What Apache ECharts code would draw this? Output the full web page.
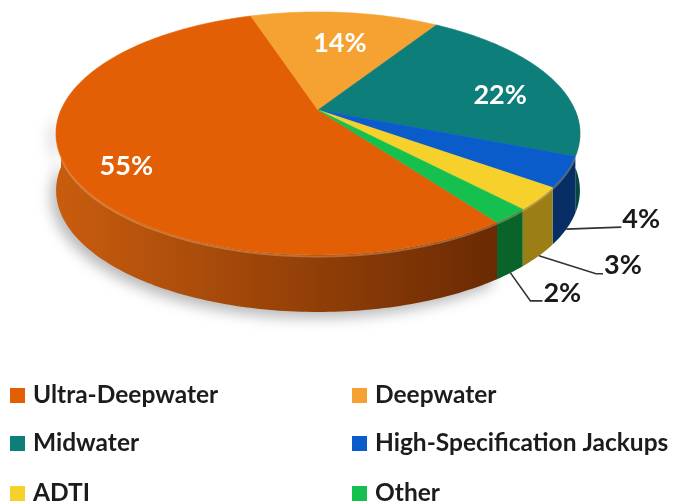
<!DOCTYPE html>
<html>
<head>
<meta charset="utf-8">
<script src="https://cdn.jsdelivr.net/npm/echarts@6/dist/echarts.min.js"></script>
<style>
  html, body { margin: 0; padding: 0; background: #ffffff; }
  #chart { width: 673px; height: 504px; }
</style>
</head>
<body>
<div id="chart"></div>
<script>
// Fleet mix by rig class (share of total, %)
const categories = ['Ultra-Deepwater', 'Deepwater', 'Midwater', 'High-Specification Jackups', 'ADTI', 'Other'];
const shares = [55, 14, 22, 4, 3, 2];
const shareLabels = ['55%', '14%', '22%', '4%', '3%', '2%'];

// Colours: top face, and side wall gradient (light -> dark)
const topColors = ['#E35F05', '#F6A232', '#0D7E79', '#0B5CCB', '#F6D12B', '#15C04F'];
const sideColors = [
  ['#C85C0E', '#6A2A03'],
  ['#C27A1E', '#8A5410'],
  ['#0A615D', '#064744'],
  ['#0A4B9E', '#072F66'],
  ['#CBA624', '#9C7E16'],
  ['#10893A', '#0A6328']
];

// Leader routing for the small slices that are labelled outside the disc:
// bend point and end point, relative to the anchor on the wall.
const calloutRoutes = [null, null, null, [[27, -1], [55, -2]], [[57, 18], [64, 18]], [[20, 28], [32, 28]]];

// Legend grid: two columns, three rows (left edge of icon, row centre)
const legendColumns = [10, 352];
const legendRows = [395, 443, 493];

// Disc projection (simple perspective, tilted toward the viewer)
const CX = 318, CY = 110, RX = 257, RY = 117, K = -0.193, DEPTH = 57;
const START_DEG = 144;       // clockwise from 12 o'clock
const LABEL_FRAC = 0.78;
const LABEL_DROP = 12;
const FONT = 'Lato, "Open Sans", sans-serif';

const total = shares.reduce((s, v) => s + v, 0);
const startDeg = [];
{
  let acc = START_DEG;
  shares.forEach(v => { startDeg.push(acc); acc += v / total * 360; });
}

function project(deg, f, down) {
  const r = deg * Math.PI / 180;
  const X = f * Math.sin(r), Z = -f * Math.cos(r);
  const d = 1 + K * Z;
  return [CX + RX * X / d, CY + RY * Z / d + (down || 0)];
}

function arcPoints(a, b, down) {
  const pts = [];
  const n = Math.max(2, Math.ceil(Math.abs(b - a)));
  for (let j = 0; j <= n; j++) pts.push(project(a + (b - a) * j / n, 1, down));
  return pts;
}

function renderSlice(params, api) {
  const i = params.seriesIndex;
  const value = api.value(0);
  const a = startDeg[i];
  const b = a + value / total * 360;
  const children = [];

  // front wall: the part of [a, b] lying on the near half of the disc
  const ranges = [[90, 270], [450, 630]];
  ranges.forEach(([lo, hi]) => {
    const s = Math.max(a, lo), e = Math.min(b, hi);
    if (e > s) {
      const topArc = arcPoints(s, e, 0);
      const botArc = arcPoints(e, s, DEPTH);
      children.push({
        type: 'polygon',
        z2: i === 0 ? 1 : 2,
        shape: { points: topArc.concat(botArc) },
        style: {
          fill: new echarts.graphic.LinearGradient(CX - RX, 0, CX + 0.7 * RX, 0, [
            { offset: 0, color: sideColors[i][0] },
            { offset: 1, color: sideColors[i][1] }
          ], true),
          shadowColor: i === 0 ? 'rgba(0,0,0,0.28)' : 'rgba(0,0,0,0)',
          shadowBlur: i === 0 ? 14 : 0,
          shadowOffsetX: -5,
          shadowOffsetY: 6
        }
      });
      children.push({
        type: 'polyline',
        z2: 3,
        shape: { points: arcPoints(s, e, 1.5) },
        style: { stroke: 'rgba(255,200,150,0.35)', lineWidth: 2, fill: null }
      });
    }
  });

  // top face
  children.push({
    type: 'polygon',
    z2: 4,
    shape: { points: [project(0, 0, 0)].concat(arcPoints(a, b, 0)) },
    style: { fill: topColors[i], stroke: topColors[i], lineWidth: 0.6 }
  });

  const mid = (a + b) / 2;
  const route = calloutRoutes[i];
  if (!route) {
    const p = project(mid, LABEL_FRAC, LABEL_DROP);
    children.push({
      type: 'text',
      z2: 6,
      x: p[0], y: p[1],
      style: {
        text: shareLabels[i],
        fill: '#ffffff',
        font: 'bold 27px ' + FONT,
        align: 'center',
        verticalAlign: 'middle'
      }
    });
  } else {
    const p = project(mid, 1, DEPTH);
    const bend = [p[0] + route[0][0], p[1] + route[0][1]];
    const end = [p[0] + route[1][0], p[1] + route[1][1]];
    children.push({
      type: 'polyline',
      z2: 6,
      shape: { points: [p, bend, end] },
      style: { stroke: '#333333', lineWidth: 1.6, fill: null }
    });
    children.push({
      type: 'text',
      z2: 6,
      x: end[0] + 1, y: end[1] - 8,
      style: {
        text: shareLabels[i],
        fill: '#1a1a1a',
        font: 'bold 27px ' + FONT,
        align: 'left',
        verticalAlign: 'middle'
      }
    });
  }
  return { type: 'group', children };
}

const series = categories.map((name, i) => ({
  type: 'custom',
  name: name,
  coordinateSystem: 'none',
  renderItem: renderSlice,
  itemStyle: { color: topColors[i] },
  data: [[shares[i]]]
}));

const LEGEND_LINE = 24;
const legends = categories.map((name, i) => ({
  data: [name],
  left: legendColumns[i % 2],
  top: legendRows[Math.floor(i / 2)] - LEGEND_LINE / 2,
  padding: 0,
  icon: 'rect', itemWidth: 15, itemHeight: 15,
  selectedMode: false,
  textStyle: {
    fontFamily: FONT,
    fontWeight: 'bold',
    fontSize: 24.5,
    color: '#1c1c1c',
    lineHeight: LEGEND_LINE,
    padding: [0, 0, 0, 3]
  }
}));

const chart = echarts.init(document.getElementById('chart'), null, { renderer: 'canvas' });
chart.setOption({
  animation: false,
  backgroundColor: '#ffffff',
  legend: legends,
  series: series
});
</script>
</body>
</html>
